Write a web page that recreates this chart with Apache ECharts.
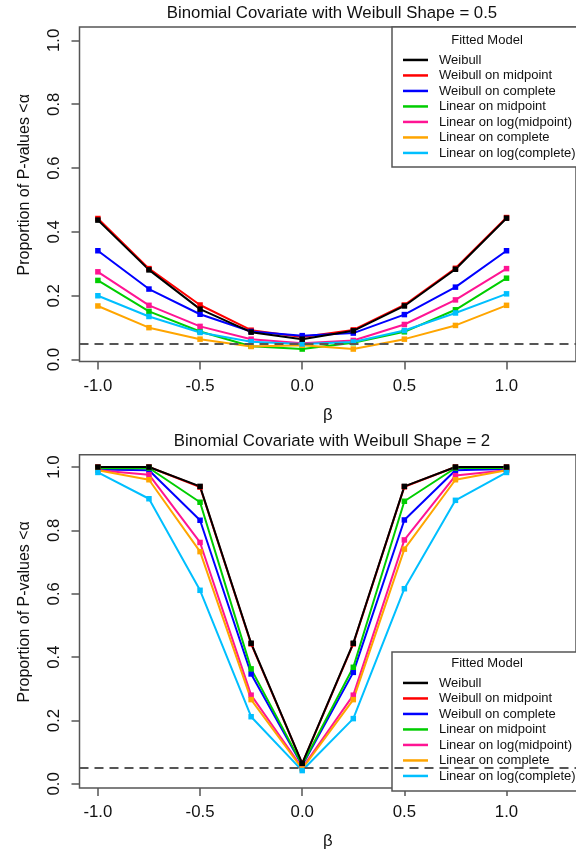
<!DOCTYPE html>
<html><head><meta charset="utf-8">
<script src="https://cdn.jsdelivr.net/npm/echarts@6/dist/echarts.min.js"></script>
<style>html,body{margin:0;padding:0;background:#fff}#c{width:576px;height:851px}</style>
</head><body><div id="c"></div>
<script>
const betas = [-1, -0.75, -0.5, -0.25, 0, 0.25, 0.5, 0.75, 1];
const xTicks = [-1, -0.5, 0, 0.5, 1];
const yTicks = [0, 0.2, 0.4, 0.6, 0.8, 1];
const seriesNames = ["Weibull", "Weibull on midpoint", "Weibull on complete", "Linear on midpoint", "Linear on log(midpoint)", "Linear on complete", "Linear on log(complete)"];
const seriesColors = ["#000000", "#FF0000", "#0000FF", "#00CD00", "#FF1493", "#FFA500", "#00BFFF"];
const titles = ["Binomial Covariate with Weibull Shape = 0.5", "Binomial Covariate with Weibull Shape = 2"];
const alphaLevel = 0.05;

// Shape = 0.5
const top_weibull      = [0.437, 0.281, 0.158, 0.086, 0.064, 0.090, 0.168, 0.283, 0.443];
const top_weibull_mid  = [0.442, 0.285, 0.171, 0.092, 0.071, 0.093, 0.171, 0.286, 0.445];
const top_weibull_comp = [0.341, 0.221, 0.142, 0.088, 0.075, 0.083, 0.141, 0.227, 0.341];
const top_lin_mid      = [0.248, 0.151, 0.088, 0.042, 0.033, 0.053, 0.087, 0.156, 0.255];
const top_lin_logmid   = [0.275, 0.170, 0.104, 0.064, 0.051, 0.060, 0.110, 0.187, 0.285];
const top_lin_comp     = [0.168, 0.100, 0.064, 0.041, 0.045, 0.033, 0.064, 0.107, 0.170];
const top_lin_logcomp  = [0.200, 0.135, 0.085, 0.056, 0.049, 0.055, 0.091, 0.146, 0.206];

// Shape = 2
const bot_weibull      = [1.000, 1.000, 0.939, 0.444, 0.065, 0.444, 0.939, 1.000, 1.000];
const bot_weibull_mid  = [1.000, 1.000, 0.937, 0.442, 0.064, 0.442, 0.938, 1.000, 1.000];
const bot_weibull_comp = [0.992, 0.990, 0.832, 0.347, 0.058, 0.352, 0.833, 0.990, 0.994];
const bot_lin_mid      = [0.996, 0.997, 0.889, 0.363, 0.060, 0.368, 0.892, 0.997, 0.997];
const bot_lin_logmid   = [0.990, 0.976, 0.762, 0.280, 0.050, 0.280, 0.770, 0.973, 0.990];
const bot_lin_comp     = [0.990, 0.960, 0.733, 0.266, 0.047, 0.266, 0.741, 0.960, 0.990];
const bot_lin_logcomp  = [0.983, 0.900, 0.611, 0.212, 0.042, 0.206, 0.616, 0.895, 0.983];

const topData = [top_weibull, top_weibull_mid, top_weibull_comp, top_lin_mid, top_lin_logmid, top_lin_comp, top_lin_logcomp];
const botData = [bot_weibull, bot_weibull_mid, bot_weibull_comp, bot_lin_mid, bot_lin_logmid, bot_lin_comp, bot_lin_logcomp];

const FONT = "'Liberation Sans', Arial, sans-serif";
const AX = '#555';
const TXT = '#111';

const grids = [
  {left: 79.5, top: 27, height: 334.5, right: -8.5, show: true, borderColor: AX, borderWidth: 1.5, backgroundColor: 'transparent'},
  {left: 79.5, top: 454.7, height: 336.3, right: -8.5, show: true, borderColor: AX, borderWidth: 1.5, backgroundColor: 'transparent'}
];
const yRanges = [[-0.006, 1.042], [-0.013, 1.039]];

function xAxis(i) {
  return {
    type: 'value', gridIndex: i, min: -1.09, max: 1.34,
    axisLine: {show: false, onZero: false},
    splitLine: {show: false},
    axisTick: {show: true, length: 8, lineStyle: {color: AX, width: 1.5}, customValues: xTicks},
    axisLabel: {customValues: xTicks, formatter: v => v.toFixed(1), fontSize: 16.8, fontFamily: FONT, color: TXT, margin: 16},
    name: 'β', nameLocation: 'middle', nameGap: 45,
    nameTextStyle: {fontSize: 16.8, fontFamily: FONT, color: TXT}
  };
}
function yAxis(i) {
  return {
    type: 'value', gridIndex: i, min: yRanges[i][0], max: yRanges[i][1],
    axisLine: {show: false, onZero: false},
    splitLine: {show: false},
    axisTick: {show: true, length: 8, lineStyle: {color: AX, width: 1.5}, customValues: yTicks},
    axisLabel: {customValues: yTicks, formatter: v => v.toFixed(1), rotate: 90, fontSize: 16.8, fontFamily: FONT, color: TXT, margin: 17},
    name: 'Proportion of P-values <α', nameLocation: 'middle', nameRotate: 90, nameGap: 47,
    nameTextStyle: {fontSize: 16, fontFamily: FONT, color: TXT, padding: [0, 0, 0, 19]}
  };
}

const drawOrder = [1, 2, 3, 4, 5, 6, 0];
const series = [];
[topData, botData].forEach((set, gi) => {
  drawOrder.forEach((k, j) => {
    const s = {
      type: 'line', name: seriesNames[k], xAxisIndex: gi, yAxisIndex: gi,
      data: betas.map((b, m) => [b, set[k][m]]),
      symbol: 'rect', symbolSize: 5.5, showSymbol: true,
      lineStyle: {color: seriesColors[k], width: 2},
      itemStyle: {color: seriesColors[k]},
      color: seriesColors[k],
      emphasis: {disabled: true},
      z: 2
    };
    if (j === 0) {
      s.markLine = {
        silent: true, symbol: 'none', label: {show: false},
        lineStyle: {color: AX, width: 2, type: [9, 6]},
        data: [{yAxis: alphaLevel}]
      };
    }
    series.push(s);
  });
});

function legend(top) {
  return {
    data: seriesNames, orient: 'vertical', left: 403, top: top,
    icon: 'rect', itemWidth: 25, itemHeight: 2.5, itemGap: 0, padding: 0,
    selectedMode: false,
    textStyle: {fontSize: 13, fontFamily: FONT, color: TXT, lineHeight: 15.5, padding: [0, 0, 0, 6]},
    z: 6
  };
}

const graphic = [
  {type: 'text', x: 332, y: 13.5, z: 5, style: {text: titles[0], textAlign: 'center', textVerticalAlign: 'middle', font: '16.8px ' + FONT, fill: TXT}},
  {type: 'text', x: 332, y: 441, z: 5, style: {text: titles[1], textAlign: 'center', textVerticalAlign: 'middle', font: '16.8px ' + FONT, fill: TXT}},
  {type: 'rect', z: 4, shape: {x: 392, y: 27, width: 260, height: 140}, style: {fill: '#fff', stroke: AX, lineWidth: 1.5}},
  {type: 'rect', z: 4, shape: {x: 392, y: 652, width: 260, height: 139}, style: {fill: '#fff', stroke: AX, lineWidth: 1.5}},
  {type: 'text', x: 487, y: 40.5, z: 5, style: {text: 'Fitted Model', textAlign: 'center', textVerticalAlign: 'middle', font: '13px ' + FONT, fill: TXT}},
  {type: 'text', x: 487, y: 663.5, z: 5, style: {text: 'Fitted Model', textAlign: 'center', textVerticalAlign: 'middle', font: '13px ' + FONT, fill: TXT}}
];

const chart = echarts.init(document.getElementById('c'), null, {renderer: 'canvas'});
chart.setOption({
  animation: false,
  backgroundColor: '#fff',
  grid: grids,
  xAxis: [xAxis(0), xAxis(1)],
  yAxis: [yAxis(0), yAxis(1)],
  legend: [legend(52.2), legend(675.2)],
  graphic: graphic,
  series: series
});
</script></body></html>
